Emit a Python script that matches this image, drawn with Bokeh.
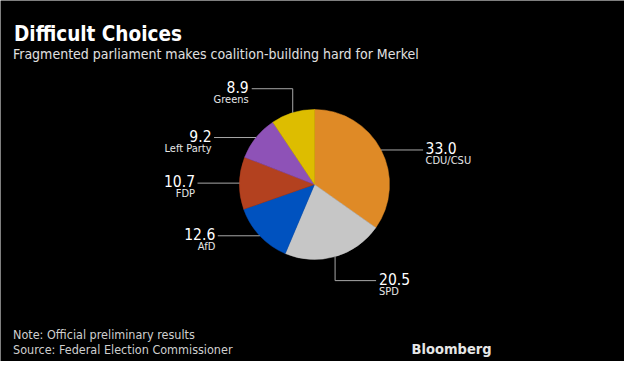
import numpy as np
from bokeh.plotting import figure
from bokeh.models import Range1d, ColumnDataSource
from bokeh.core.properties import value
from bokeh.embed import file_html
from bokeh.resources import INLINE

# ---- data ----
parties = ["CDU/CSU", "SPD", "AfD", "FDP", "Left Party", "Greens"]
shares = [33.0, 20.5, 12.6, 10.7, 9.2, 8.9]
colors = ["#DF8A26", "#C6C6C6", "#0052BF", "#B3411F", "#8E52B7", "#DDBD00"]
value_labels = ["33.0", "20.5", "12.6", "10.7", "9.2", "8.9"]

title = "Difficult Choices"
subtitle = "Fragmented parliament makes coalition-building hard for Merkel"
note = "Note: Official preliminary results"
source = "Source: Federal Election Commissioner"

FONT = "Liberation Sans Narrow, DejaVu Sans Condensed, sans-serif"
W, H = 624, 361

p = figure(width=W, height=H, output_backend="svg", toolbar_location=None,
           x_range=Range1d(0, W), y_range=Range1d(0, H),
           background_fill_color="black", border_fill_color="black",
           min_border=0, outline_line_color=None)
p.axis.visible = False
p.grid.visible = False

# ---- pie ----
cx, cy, r = 314, 177, 75
vals = np.array(shares)
frac = vals / vals.sum()
cum_after = np.cumsum(frac)
cum_before = cum_after - frac
start = np.pi / 2 - 2 * np.pi * cum_after
end = np.pi / 2 - 2 * np.pi * cum_before
src = ColumnDataSource(dict(start=start, end=end, color=colors, party=parties))
p.wedge(x=cx, y=cy, radius=r, start_angle="start", end_angle="end",
        fill_color="color", line_color="color", line_width=0.5, source=src)

# ---- leader lines & labels ----
mid = np.pi / 2 - 2 * np.pi * (cum_before + frac / 2)
ax = cx + r * np.cos(mid)
ay = cy + r * np.sin(mid)

# leader style: 'h' = horizontal, 'up' = up then left, 'down' = down then right
styles = ["h", "down", "h", "h", "h", "up"]
HL, VL = 42, 24
lxs, lys = [], []
tx, ty, talign = [], [], []
for i in range(len(parties)):
    x0, y0 = ax[i], ay[i]
    if styles[i] == "h":
        d = 1 if x0 > cx else -1
        x1 = x0 + d * HL
        lxs.append([x0, x1]); lys.append([y0, y0])
        tx.append(x1 + d * 2.5); ty.append(y0)
        talign.append("left" if d > 0 else "right")
    elif styles[i] == "down":
        y1 = y0 - VL
        x1 = x0 + 41
        lxs.append([x0, x0, x1]); lys.append([y0, y1, y1])
        tx.append(x1 + 3); ty.append(y1); talign.append("left")
    else:
        y1 = y0 + VL
        x1 = x0 - 41
        lxs.append([x0, x0, x1]); lys.append([y0, y1, y1])
        tx.append(x1 - 3); ty.append(y1); talign.append("right")

p.multi_line(xs=lxs, ys=lys, line_color="#A8A8A8", line_width=1)

lab = ColumnDataSource(dict(x=tx, yv=[y + 2 for y in ty], yn=[y - 4 for y in ty],
                            v=value_labels, n=parties, align=talign))
p.text(x="x", y="yv", text="v", source=lab, text_align="align",
       text_baseline="alphabetic", text_color="white",
       text_font=value(FONT), text_font_size="15.5px")
p.text(x="x", y="yn", text="n", source=lab, text_align="align",
       text_baseline="top", text_color="#E6E6E6",
       text_font=value(FONT), text_font_size="11px")

# ---- titles / notes ----
p.text(x=[13.5], y=[328], text=[title], text_color="white", text_font=value(FONT),
       text_font_size="20.5px", text_font_style="bold", text_baseline="alphabetic")
p.text(x=[12.5], y=[308], text=[subtitle], text_color="#E0E0E0", text_font=value(FONT),
       text_font_size="14px", text_baseline="alphabetic")
p.text(x=[12.5], y=[27], text=[note], text_color="#CFCFCF", text_font=value(FONT),
       text_font_size="12.5px", text_baseline="alphabetic")
p.text(x=[12.5], y=[12.5], text=[source], text_color="#CFCFCF", text_font=value(FONT),
       text_font_size="12.5px", text_baseline="alphabetic")
p.text(x=[491], y=[12.5], text=["Bloomberg"], text_color="#E6E6E6",
       text_font=value(FONT), text_font_size="14.5px",
       text_font_style="bold", text_align="right", text_baseline="alphabetic")

open("out.html", "w").write(file_html(p, INLINE))
